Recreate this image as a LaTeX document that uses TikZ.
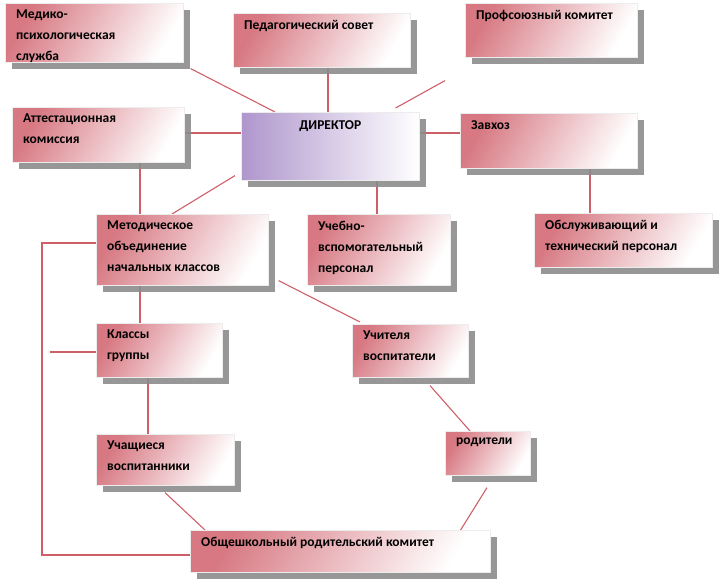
\documentclass[tikz,border=0pt]{standalone}
\usepackage{fontspec}
\setmainfont{Carlito}
\usetikzlibrary{shadows,calc,backgrounds}
\definecolor{lnk}{RGB}{205,95,105}
\definecolor{pinkd}{RGB}{215,120,130}
\definecolor{purd}{RGB}{175,150,205}
\tikzset{
 box/.style={draw=white!85!gray, line width=0.6pt, shading=axis, left color=pinkd, right color=white, shading angle=60,
   drop shadow={shadow xshift=7pt, shadow yshift=-7pt, fill=black!45, opacity=0.9}, inner sep=0},
 dirbox/.style={box, left color=purd},
 txt/.style={anchor=north west, align=left, font=\fontsize{13.5}{21}\selectfont\bfseries, inner sep=0},
 con/.style={draw=lnk, line width=1.1pt}
}
\newcommand{\bx}[7][box]{%
 \node[#1, anchor=north west, minimum width=#5pt-#3pt, minimum height=#6pt-#4pt] (#2) at (#3,#4) {};
 \node[txt] (#2t) at ($(#2.north west)+(11,7)$) {#7};}
\begin{document}
\begin{tikzpicture}[x=1pt,y=-1pt]
\useasboundingbox (0,0) rectangle (725,583);
\bx{med}{5}{3}{183}{62}{Медико-\\психологическая\\служба}
\bx{ped}{233}{13}{410}{67}{Педагогический совет}
\bx{prof}{465}{3}{637}{57}{Профсоюзный комитет}
\bx{att}{12}{107}{184}{162}{Аттестационная\\комиссия}
\bx[dirbox]{dir}{241}{112}{419}{180}{}
\node[txt] (dirt) at ($(dir.north)+(0,8)$) [anchor=north] {ДИРЕКТОР};
\bx{zav}{460}{113}{637}{168}{Завхоз}
\bx{met}{96}{214}{268}{285}{Методическое\\объединение\\начальных классов}
\bx{ucheb}{307}{214}{450}{285}{Учебно-\\вспомогательный\\персонал}
\bx{obs}{534}{213}{712}{267}{Обслуживающий и\\технический персонал}
\bx{kl}{96}{323}{222}{377}{Классы\\группы}
\bx{uch}{352}{324}{468}{377}{Учителя\\воспитатели}
\bx{ucha}{96}{434}{234}{485}{Учащиеся\\воспитанники}
\bx{rod}{445}{431}{530}{475}{родители}
\bx{obsh}{190}{530}{490}{572}{Общешкольный родительский комитет}
\coordinate (c1) at (42,243);
\coordinate (c2) at (42,555);
\coordinate (c3) at (50,352);
\begin{scope}[on background layer]
\draw[con] ($(med.south east)+(7,6)$) -- ($(dir.north west)+(34,0)$);
\draw[con] ($(ped.south west)+(95,0)$) -- ++(0,45);
\draw[con] ($(prof.south west)+(-20,23)$) -- ($(dir.north east)+(-24,-4)$);
\draw[con] ($(att.north east)+(0,26)$) -- ($(dir.north west)+(0,21)$);
\draw[con] ($(dir.north east)+(0,21)$) -- ($(zav.north west)+(0,20)$);
\draw[con] ($(att.south west)+(128,0)$) -- ++(0,52);
\draw[con] ($(dir.south west)+(-6,-5)$) -- ($(met.north west)+(76,0)$);
\draw[con] ($(dir.south west)+(136,0)$) -- ++(0,34);
\draw[con] ($(zav.south west)+(130,0)$) -- ++(0,45);
\draw[con] ($(met.north west)+(0,29)$) -- (c1) -- (c2) -- ($(obsh.north west)+(0,25)$);
\draw[con] ($(met.south west)+(44,0)$) -- ++(0,38);
\draw[con] ($(met.south east)+(10,-5)$) -- ($(uch.north west)+(8,-2)$);
\draw[con] ($(kl.north west)+(0,29)$) -- (c3);
\draw[con] ($(kl.south west)+(52,0)$) -- ++(0,57);
\draw[con] ($(uch.south west)+(78,8)$) -- ($(rod.north west)+(25,0)$);
\draw[con] ($(ucha.south west)+(69,7)$) -- ($(obsh.north west)+(15,0)$);
\draw[con] ($(rod.south west)+(42,12)$) -- ($(obsh.north east)+(-30,0)$);
\end{scope}
\end{tikzpicture}
\end{document}
